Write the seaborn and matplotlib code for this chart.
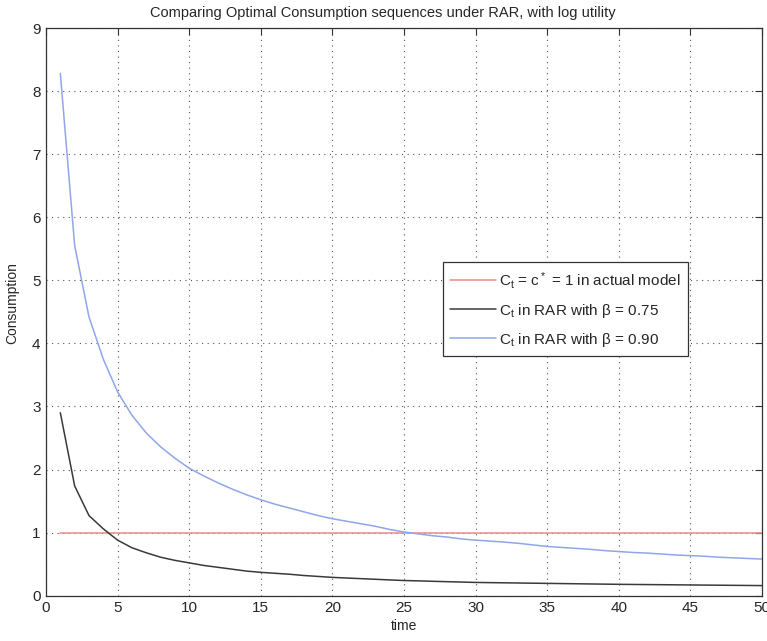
import numpy as np
import pandas as pd
import matplotlib
matplotlib.use("Agg")
import matplotlib.pyplot as plt
import seaborn as sns

# Consumption paths, t = 1..50
time = list(range(1, 51))
c_actual = [1.0] * 50
c_beta075 = [2.90, 1.74, 1.27, 1.06, 0.88, 0.76, 0.68, 0.61, 0.56, 0.52,
             0.48, 0.45, 0.42, 0.39, 0.37, 0.355, 0.34, 0.32, 0.305, 0.29,
             0.28, 0.27, 0.26, 0.25, 0.24, 0.235, 0.228, 0.222, 0.216, 0.21,
             0.207, 0.204, 0.201, 0.198, 0.195, 0.192, 0.189, 0.186, 0.183, 0.18,
             0.178, 0.176, 0.174, 0.172, 0.17, 0.168, 0.166, 0.164, 0.162, 0.16]
c_beta090 = [8.28, 5.55, 4.42, 3.75, 3.23, 2.86, 2.58, 2.36, 2.18, 2.02,
             1.90, 1.79, 1.69, 1.60, 1.52, 1.45, 1.39, 1.33, 1.27, 1.22,
             1.18, 1.14, 1.10, 1.05, 1.01, 0.98, 0.95, 0.93, 0.90, 0.88,
             0.865, 0.85, 0.83, 0.805, 0.78, 0.765, 0.75, 0.735, 0.715, 0.70,
             0.685, 0.675, 0.66, 0.645, 0.635, 0.625, 0.61, 0.60, 0.59, 0.58]

labels = [r"C$_\mathrm{t}$ = c$^*$ = 1 in actual model",
          r"C$_\mathrm{t}$ in RAR with β = 0.75",
          r"C$_\mathrm{t}$ in RAR with β = 0.90"]
colors = ["#f08a8a", "#3a3a3a", "#8fa6ea"]

df = pd.DataFrame({
    "time": time * 3,
    "Consumption": c_actual + c_beta075 + c_beta090,
    "series": [labels[0]] * 50 + [labels[1]] * 50 + [labels[2]] * 50,
})

sns.set_style("white")
plt.rcParams["font.family"] = ["Liberation Sans", "DejaVu Sans"]
plt.rcParams["mathtext.fontset"] = "custom"
plt.rcParams["mathtext.rm"] = "Liberation Sans"
plt.rcParams["mathtext.it"] = "Liberation Sans:italic"

fig = plt.figure(figsize=(7.67, 6.41), dpi=100)
ax = fig.add_axes([0.060, 0.0707, 0.9335, 0.8856])

sns.lineplot(data=df, x="time", y="Consumption", hue="series",
             palette=dict(zip(labels, colors)), linewidth=1.1, ax=ax,
             legend=False)

ax.set_xlim(0, 50)
ax.set_ylim(0, 9)
ax.set_xticks(range(0, 51, 5))
ax.set_yticks(range(0, 10))
ax.grid(True, color="#555555", linestyle=(0, (1, 4)), linewidth=0.8)
ax.tick_params(direction="in", length=5, width=0.8, color="#333333",
               labelsize=11, top=True, right=True, pad=4)
for s in ax.spines.values():
    s.set_color("#333333")
    s.set_linewidth(0.9)

ax.set_xlabel("time", fontsize=10, labelpad=3)
ax.set_ylabel("Consumption", fontsize=10)
ax.yaxis.set_label_coords(-0.037, 0.515)
ax.set_title("Comparing Optimal Consumption sequences under RAR, with log utility",
             fontsize=10.5, pad=8, x=0.47)

handles = [plt.Line2D([], [], color=c, linewidth=1.1) for c in colors]
leg = ax.legend(handles, labels, loc="upper left", bbox_to_anchor=(0.554, 0.588),
                borderaxespad=0, fontsize=11, handlelength=3.0, handletextpad=0.2,
                labelspacing=0.72, frameon=True, fancybox=False, framealpha=1,
                edgecolor="#333333", borderpad=0.5)
leg.get_frame().set_linewidth(0.9)

fig.savefig("out.png", dpi=100)
